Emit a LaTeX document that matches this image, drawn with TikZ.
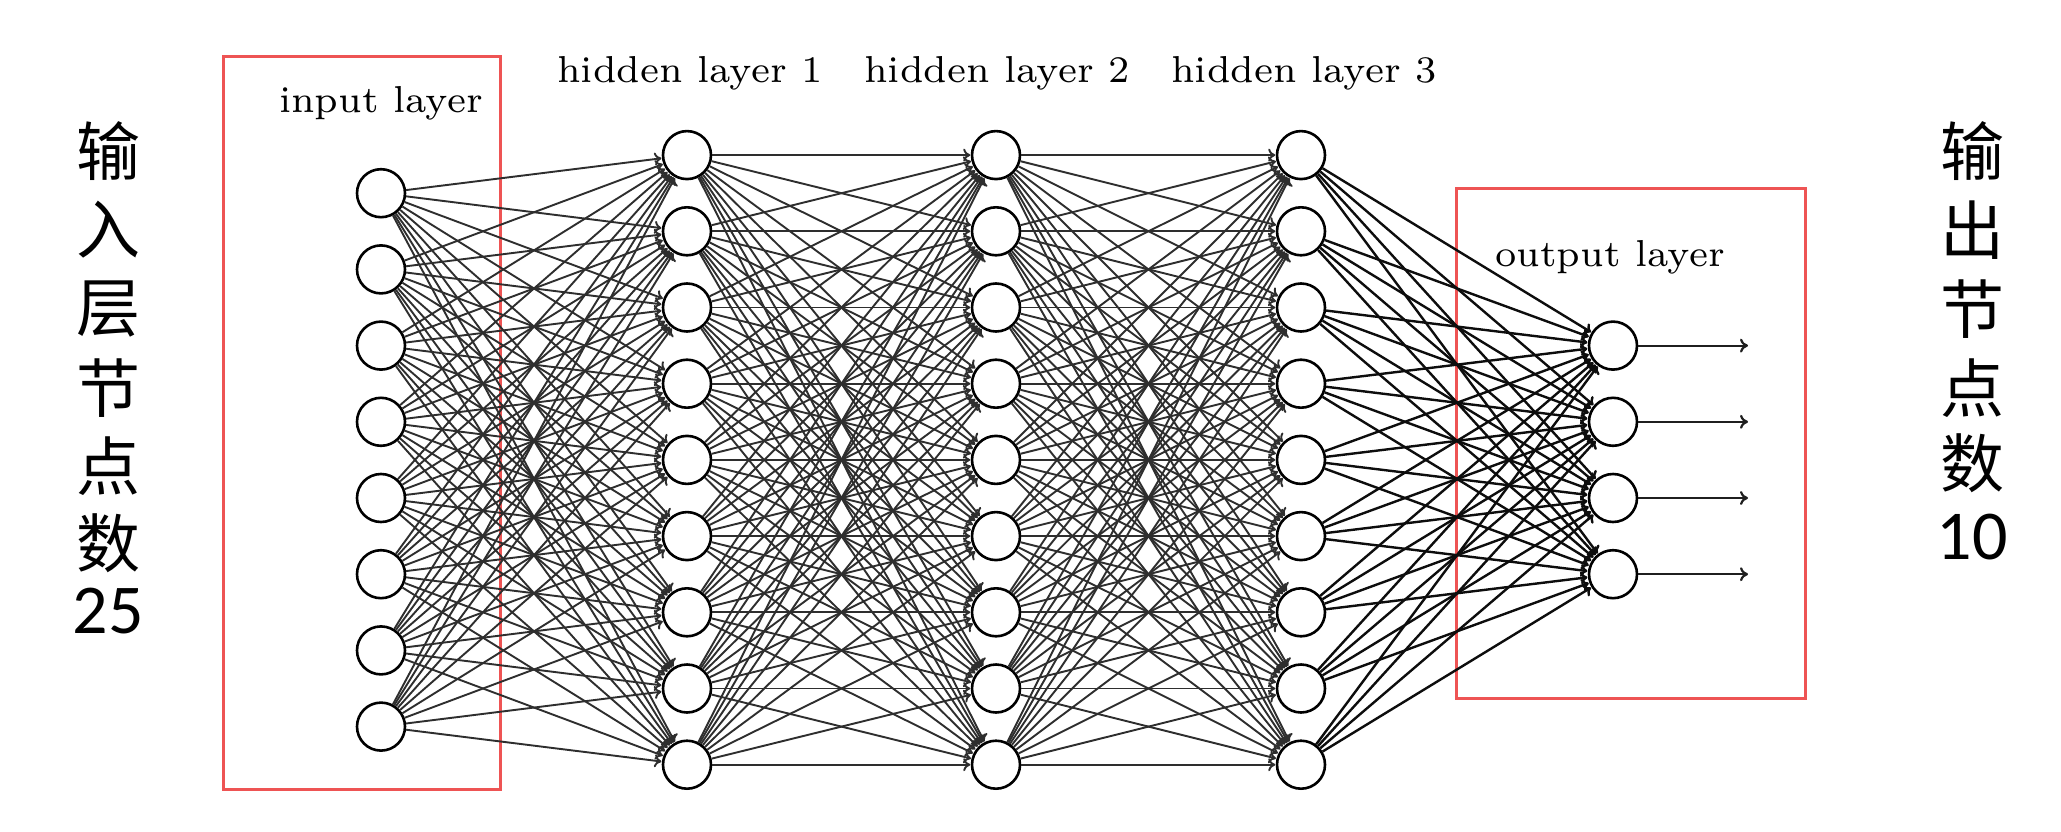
\documentclass[tikz,border=0pt]{standalone}
\usepackage{fontspec}
\newfontfamily\cjkfont{Noto Sans CJK SC}
\newfontfamily\numfont{Carlito}
\newfontfamily\lblfont{lmroman7-regular}[Extension=.otf]
\usetikzlibrary{arrows.meta}
\definecolor{boxred}{RGB}{238,84,84}
\begin{document}
\begin{tikzpicture}[x=1pt,y=-1pt,
  neuron/.style={circle,draw,line width=2.6pt,minimum size=48pt,inner sep=0pt,fill=white},
  syn/.style={line width=1.9pt,black!82,-{To[length=7pt,width=13pt]},shorten >=0.5pt},
  synb/.style={syn,line width=2.4pt,black!95},
  outarrow/.style={line width=2.2pt,black!88,-{To[length=8pt,width=14pt]}},
  lbl/.style={font=\lblfont\fontsize{37.5}{45}\selectfont,inner sep=0pt},
  redbox/.style={draw=boxred,line width=3pt,rectangle,inner sep=0pt},
  cjk/.style={font=\cjkfont\fontsize{64}{76}\selectfont,inner sep=0pt},
  num/.style={font=\numfont\fontsize{70}{80}\selectfont,inner sep=0pt}]
\useasboundingbox (0,0) rectangle (2061,832);
\fill[white] (0,0) rectangle (2061,832);

% red boxes
\node[redbox,minimum width=277pt,minimum height=732pt] (inbox) at (361.5,423) {};
\node[redbox,minimum width=349pt,minimum height=510pt] (outbox) at (1630.5,443) {};

% neurons
\foreach \i in {1,...,8}
  \node[neuron] (in\i) at (381,{193.2+76.2*(\i-1)}) {};
\foreach \j in {1,...,9}{
  \node[neuron] (ha\j) at (687,{155.1+76.2*(\j-1)}) {};
  \node[neuron] (hb\j) at (996,{155.1+76.2*(\j-1)}) {};
  \node[neuron] (hc\j) at (1301,{155.1+76.2*(\j-1)}) {};
}
\foreach \k in {1,...,4}{
  \node[neuron] (out\k) at (1613,{345.6+76.2*(\k-1)}) {};
  \coordinate (oe\k) at (1748,{345.6+76.2*(\k-1)});
}

% connections
\foreach \i in {1,...,8}
  \foreach \j in {1,...,9}
    \draw[syn] (in\i) -- (ha\j);
\foreach \i in {1,...,9}
  \foreach \j in {1,...,9}{
    \draw[syn] (ha\i) -- (hb\j);
    \draw[syn] (hb\i) -- (hc\j);
  }
\foreach \i in {1,...,9}
  \foreach \k in {1,...,4}
    \draw[synb] (hc\i) -- (out\k);
\foreach \k in {1,...,4}
  \draw[outarrow] (out\k) -- (oe\k);

% layer labels
\node[lbl] (lin) at (381,103) {input layer};
\node[lbl] (lh1) at (690,73) {hidden layer 1};
\node[lbl] (lh2) at (997,73) {hidden layer 2};
\node[lbl] (lh3) at (1304,73) {hidden layer 3};
\node[lbl] (lout) at (1610,257) {output layer};

% left column
\node[cjk] (l1) at (108,151) {输};
\node[cjk] (l2) at (108,230) {入};
\node[cjk] (l3) at (108,309) {层};
\node[cjk] (l4) at (108,388) {节};
\node[cjk] (l5) at (108,466) {点};
\node[cjk] (l6) at (108,543) {数};
\node[num] (l7) at (108,611) {25};
% right column
\node[cjk] (r1) at (1972,151) {输};
\node[cjk] (r2) at (1972,230) {出};
\node[cjk] (r3) at (1972,309) {节};
\node[cjk] (r4) at (1972,388) {点};
\node[cjk] (r5) at (1972,463) {数};
\node[num] (r6) at (1972,537) {10};
\end{tikzpicture}
\end{document}
